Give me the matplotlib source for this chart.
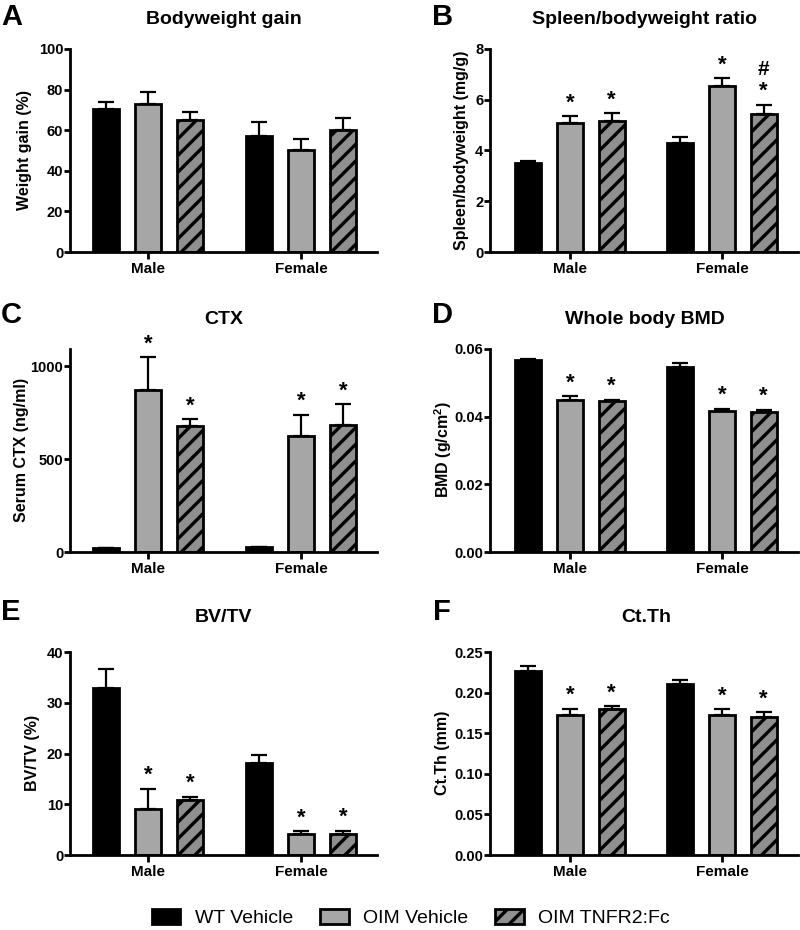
import matplotlib
matplotlib.use("Agg")
import matplotlib.pyplot as plt
from matplotlib.patches import Patch
import numpy as np

plt.rcParams['font.family'] = ['Liberation Sans', 'DejaVu Sans']
plt.rcParams['font.weight'] = 'bold'
plt.rcParams['mathtext.fontset'] = 'custom'
plt.rcParams['mathtext.rm'] = 'Liberation Sans:bold'
plt.rcParams['mathtext.bf'] = 'Liberation Sans:bold'
plt.rcParams['hatch.linewidth'] = 2.4
plt.rcParams['hatch.color'] = 'black'

# ---------------- data ----------------
sexes = ['Male', 'Female']
groups = ['WT Vehicle', 'OIM Vehicle', 'OIM TNFR2:Fc']

# rows: groups (WT Vehicle, OIM Vehicle, OIM TNFR2:Fc); columns: sexes (Male, Female)
bw_gain_mean = [[70.5, 57.2], [73.0, 50.2], [65.0, 60.2]]
bw_gain_sem = [[3.4, 6.6], [5.7, 5.4], [3.9, 5.7]]
bw_gain_sig = [['', ''], ['', ''], ['', '']]

spleen_mean = [[3.49, 4.29], [5.09, 6.54], [5.18, 5.42]]
spleen_sem = [[0.08, 0.23], [0.27, 0.31], [0.30, 0.39]]
spleen_sig = [['', ''], ['*', '*'], ['*', '*#']]

ctx_mean = [[20, 25], [874, 623], [680, 684]]
ctx_sem = [[2, 2], [174, 117], [36, 111]]
ctx_sig = [['', ''], ['*', '*'], ['*', '*']]

bmd_mean = [[0.0567, 0.0548], [0.0450, 0.0417], [0.0446, 0.0415]]
bmd_sem = [[0.0003, 0.0010], [0.0011, 0.0007], [0.0004, 0.0006]]
bmd_sig = [['', ''], ['*', '*'], ['*', '*']]

bvtv_mean = [[32.9, 18.2], [9.1, 4.1], [10.8, 4.07]]
bvtv_sem = [[3.7, 1.6], [3.95, 0.6], [0.7, 0.7]]
bvtv_sig = [['', ''], ['*', '*'], ['*', '*']]

ctth_mean = [[0.227, 0.2111], [0.173, 0.173], [0.1795, 0.1701]]
ctth_sem = [[0.0062, 0.0041], [0.0073, 0.0065], [0.0037, 0.0061]]
ctth_sig = [['', ''], ['*', '*'], ['*', '*']]

# ---------------- styling ----------------
W, H = 800, 930
fig = plt.figure(figsize=(W / 100, H / 100), dpi=100)

face = ['black', '#a6a6a6', '#8f8f8f']
hatches = [None, None, '//']

def px_axes(left, right, top, bottom):
    return fig.add_axes([left / W, 1 - bottom / H, (right - left) / W, (bottom - top) / H])

def panel(ax, mean, sem, sig, ylim, yticks, yticklabels, xlim):
    x = np.arange(len(sexes))
    offs = [-0.275, 0.0, 0.275]
    bw = 0.172
    for g in range(len(groups)):
        xs = x + offs[g]
        ax.bar(xs, mean[g], width=bw, color=face[g], edgecolor='black',
               linewidth=2.0, hatch=hatches[g], zorder=2)
        ax.errorbar(xs, mean[g], yerr=[np.zeros(len(sexes)), sem[g]], fmt='none',
                    ecolor='black', elinewidth=1.6, capsize=5.5, capthick=1.6, zorder=1)
        for i in range(len(sexes)):
            top = mean[g][i] + sem[g][i]
            s = sig[g][i]
            if '*' in s:
                ax.annotate('*', (xs[i], top), xytext=(0, 5.5), textcoords='offset points',
                            ha='center', va='baseline', fontsize=16, fontweight='bold')
            if '#' in s:
                ax.annotate('#', (xs[i], top), xytext=(0, 21), textcoords='offset points',
                            ha='center', va='baseline', fontsize=15, fontweight='bold')
    ax.set_xlim(*xlim)
    ax.set_ylim(*ylim)
    ax.set_yticks(yticks)
    ax.set_yticklabels(yticklabels, fontsize=10.5, fontweight='bold')
    ax.set_xticks(x)
    ax.set_xticklabels(sexes, fontsize=11, fontweight='bold')
    for sp in ['top', 'right']:
        ax.spines[sp].set_visible(False)
    for sp in ['left', 'bottom']:
        ax.spines[sp].set_linewidth(2.0)
    ax.tick_params(axis='y', width=2.0, length=4, pad=0.8)
    ax.tick_params(axis='x', width=2.0, length=5, pad=2.5)

left_xlim = (-0.51, 1.497)
right_xlim = (-0.526, 1.5)

axA = px_axes(70, 377, 49, 252)
panel(axA, bw_gain_mean, bw_gain_sem, bw_gain_sig, (0, 100), [0, 20, 40, 60, 80, 100],
      ['0', '20', '40', '60', '80', '100'], left_xlim)
axB = px_axes(490, 798, 49, 252)
panel(axB, spleen_mean, spleen_sem, spleen_sig, (0, 8), [0, 2, 4, 6, 8],
      ['0', '2', '4', '6', '8'], right_xlim)
axC = px_axes(70, 377, 349, 552)
panel(axC, ctx_mean, ctx_sem, ctx_sig, (0, 1093), [0, 500, 1000],
      ['0', '500', '1000'], left_xlim)
axD = px_axes(490, 798, 349, 552)
panel(axD, bmd_mean, bmd_sem, bmd_sig, (0, 0.06), [0, 0.02, 0.04, 0.06],
      ['0.00', '0.02', '0.04', '0.06'], right_xlim)
axE = px_axes(70, 377, 652, 855)
panel(axE, bvtv_mean, bvtv_sem, bvtv_sig, (0, 40), [0, 10, 20, 30, 40],
      ['0', '10', '20', '30', '40'], left_xlim)
axF = px_axes(490, 798, 652, 855)
panel(axF, ctth_mean, ctth_sem, ctth_sig, (0, 0.25), [0, 0.05, 0.10, 0.15, 0.20, 0.25],
      ['0.00', '0.05', '0.10', '0.15', '0.20', '0.25'], right_xlim)

def ftext(x, y, s, **kw):
    fig.text(x / W, 1 - y / H, s, **kw)

# panel letters
for (lx, ly, L) in [(1, 17, 'A'), (432, 17, 'B'), (1, 315, 'C'), (432, 315, 'D'),
                    (1, 612, 'E'), (433, 612, 'F')]:
    ftext(lx, ly, L, ha='left', va='center', fontsize=21, fontweight='bold')

# titles
for (tx, ty, T) in [(224, 20, 'Bodyweight gain'), (645, 20, 'Spleen/bodyweight ratio'),
                    (224, 319, 'CTX'), (645, 319, 'Whole body BMD'),
                    (223, 617, 'BV/TV'), (646, 617, 'Ct.Th')]:
    ftext(tx, ty, T, ha='center', va='center', fontsize=14, fontweight='bold')

# y labels
for (yx, yy, Y) in [(25, 150, 'Weight gain (%)'), (461, 150, 'Spleen/bodyweight (mg/g)'),
                    (22, 450, 'Serum CTX (ng/ml)'), (443, 450, r'BMD (g/cm$^{2}$)'),
                    (33, 753, 'BV/TV (%)'), (442, 753, 'Ct.Th (mm)')]:
    ftext(yx, yy, Y, ha='center', va='center', rotation=90, fontsize=11.5, fontweight='bold')

handles = [Patch(facecolor=face[g], edgecolor='black', linewidth=2.0, hatch=hatches[g],
                 label=groups[g]) for g in range(len(groups))]
fig.legend(handles=handles, loc='center', bbox_to_anchor=(411 / W, 1 - 918 / H), ncol=3,
           frameon=False, prop={'family': 'Liberation Sans', 'weight': 'normal', 'size': 14},
           handlelength=1.45, handleheight=0.85, handletextpad=0.75, columnspacing=1.4)

fig.savefig('out.png', dpi=100)
